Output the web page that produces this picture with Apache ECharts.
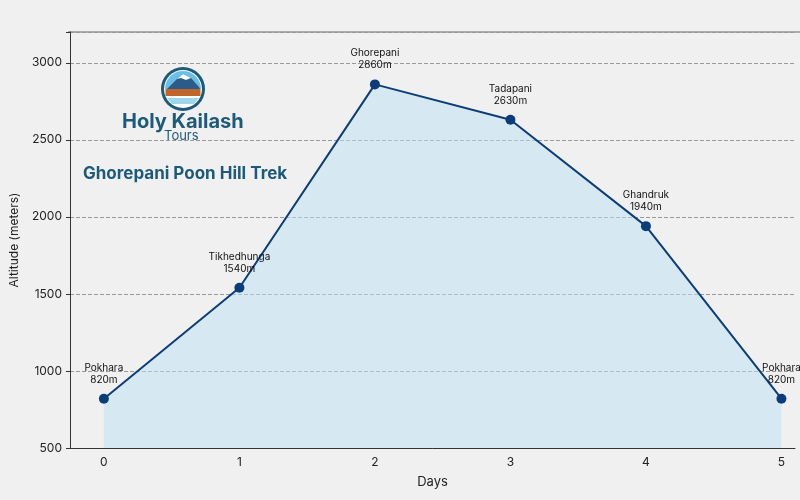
<!DOCTYPE html>
<html><head><meta charset="utf-8">
<script src="https://cdn.jsdelivr.net/npm/echarts@6/dist/echarts.min.js"></script>
<style>html,body{margin:0;background:#f0f0f0}#c{width:800px;height:500px}</style></head>
<body><div id="c"></div>
<script>
const days = [0, 1, 2, 3, 4, 5];
const altitudes = [820, 1540, 2860, 2630, 1940, 820];
const places = ['Pokhara', 'Tikhedhunga', 'Ghorepani', 'Tadapani', 'Ghandruk', 'Pokhara'];
const yTicks = [500, 1000, 1500, 2000, 2500, 3000];

const chart = echarts.init(document.getElementById('c'));
chart.setOption({
  backgroundColor: '#f0f0f0',
  animation: false,
  grid: {left: 68, right: 5, top: 32, bottom: 52},
  xAxis: {
    type: 'value', min: -0.25, max: 5.1, interval: 0.25,
    name: 'Days', nameLocation: 'middle', nameGap: 28,
    nameTextStyle: {color: '#222', fontSize: 13, fontFamily: 'Inter'},
    axisLine: {lineStyle: {color: '#333'}},
    axisTick: {show: false},
    splitLine: {show: false},
    axisLabel: {color: '#222', fontSize: 12, fontFamily: 'Inter',
      formatter: v => Math.abs(v - Math.round(v)) < 1e-6 && days.includes(Math.round(v)) ? String(Math.round(v)) : ''}
  },
  yAxis: {
    type: 'value', min: 500, max: 3200, interval: 500,
    name: 'Altitude (meters)', nameLocation: 'middle', nameGap: 50,
    nameTextStyle: {color: '#222', fontSize: 12, fontFamily: 'Inter'},
    axisLine: {show: true, onZero: false, lineStyle: {color: '#333'}},
    axisTick: {show: true, length: 4, lineStyle: {color: '#333'}},
    axisLabel: {color: '#222', fontSize: 12, fontFamily: 'Inter',
      formatter: v => yTicks.includes(v) ? String(v) : ''},
    splitLine: {show: true, lineStyle: {type: 'dashed', color: '#999'}}
  },
  series: [{
    type: 'line',
    data: days.map((d, i) => [d, altitudes[i]]),
    symbol: 'circle', symbolSize: 10,
    lineStyle: {color: '#0d3d78', width: 2},
    itemStyle: {color: '#0d3d78'},
    areaStyle: {color: 'rgba(190,225,242,0.75)', origin: 'start'},
    label: {show: true, position: 'top', distance: 8, color: '#111', fontSize: 10,
      fontFamily: 'Inter', lineHeight: 12,
      formatter: p => places[p.dataIndex] + '\n' + altitudes[p.dataIndex] + 'm'}
  }],
  graphic: [
    {type: 'line', shape: {x1: 68, y1: 32, x2: 800, y2: 32}, style: {stroke: '#666', lineWidth: 1}},
    {type: 'group', left: 161, top: 67, children: [
      {type: 'circle', shape: {cx: 22, cy: 22, r: 22}, style: {fill: '#1d5a7a'}},
      {type: 'circle', shape: {cx: 22, cy: 22, r: 19}, style: {fill: '#ffffff'}},
      {type: 'sector', shape: {cx: 22, cy: 22, r: 18, startAngle: Math.PI, endAngle: 2 * Math.PI}, style: {fill: '#6bbfe6'}},
      {type: 'polygon', shape: {points: [[6,22],[16,12],[22,7],[30,11],[38,20],[39,22]]}, style: {fill: '#2a5b8a'}},
      {type: 'polygon', shape: {points: [[16,12],[22,7],[30,11],[25,13],[20,11]]}, style: {fill: '#ffffff'}},
      {type: 'rect', shape: {x: 4.5, y: 22, width: 35, height: 7}, style: {fill: '#c0662a'}},
      {type: 'polygon', shape: {points: [[6,31],[38,31],[33,37],[11,37]]}, style: {fill: '#9fd6ee'}}
    ]},
    {type: 'text', left: 122, top: 112, style: {text: 'Holy Kailash', fill: '#1d5a7a', font: 'bold 20px Inter'}},
    {type: 'text', left: 164, top: 130, style: {text: 'Tours', fill: '#1d5a7a', font: '13px Inter'}},
    {type: 'text', left: 83, top: 165, style: {text: 'Ghorepani Poon Hill Trek', fill: '#1d5a7a', font: 'bold 17px Inter'}}
  ]
});
</script></body></html>
